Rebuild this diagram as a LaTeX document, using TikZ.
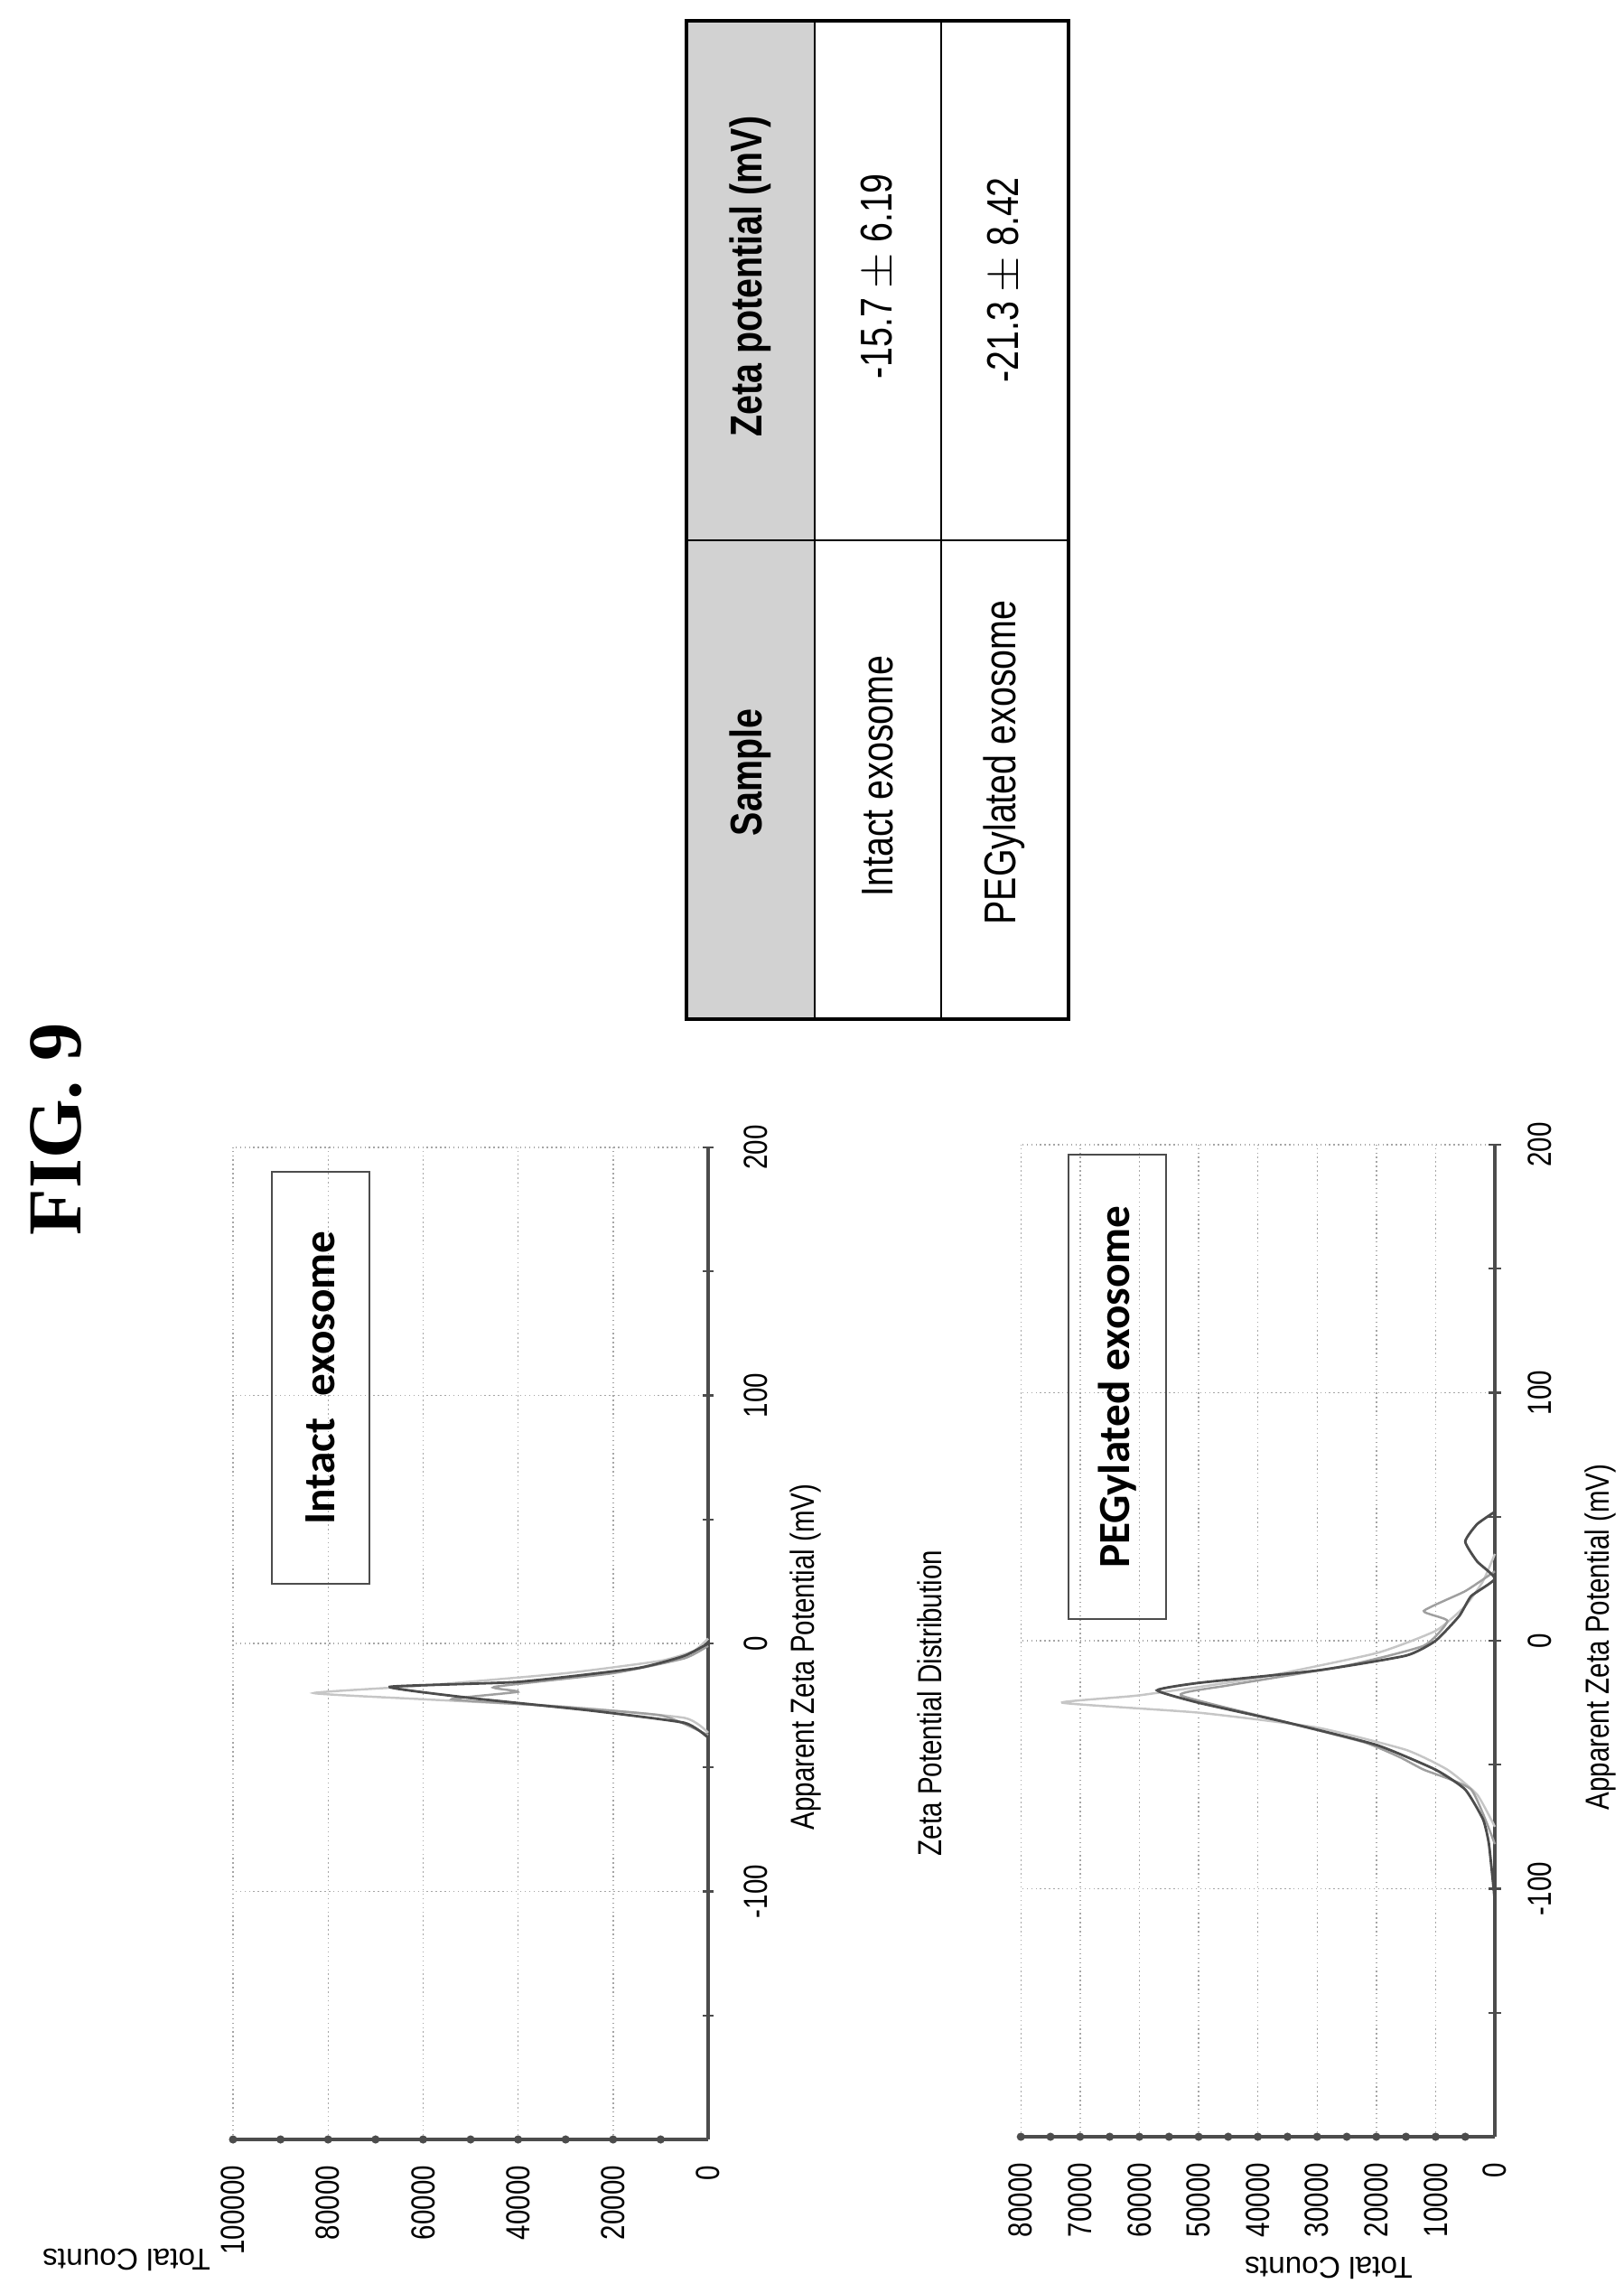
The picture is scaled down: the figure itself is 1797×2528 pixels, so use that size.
\documentclass[tikz,border=0pt]{standalone}
\usepackage{fontspec}
\setmainfont{Liberation Sans}
\newfontfamily\narrow[FakeStretch=0.8]{Liberation Sans}
\newfontfamily\boxfont{Carlito}
\newfontfamily\figfont{Liberation Serif}
\tikzset{
    gridline/.style={densely dotted, gray!70},
    axisline/.style={line width=1.4pt, gray!60!black},
    tickdot/.style={circle, fill=gray!60!black, inner sep=0pt, minimum size=2.6pt},
    ticklbl/.style={font=\narrow\fontsize{10.5}{12}\selectfont, rotate=90},
    axistitle/.style={font=\narrow\fontsize{10.5}{12}\selectfont, rotate=90},
    tracelight/.style={gray!45, line width=0.7pt},
    tracemid/.style={gray!75, line width=0.7pt},
    tracedark/.style={gray!60!black, line width=0.8pt},
    samplebox/.style={draw, gray!60!black, line width=0.6pt, rotate=90, minimum height=1.08cm, text=black, font=\boxfont\bfseries\fontsize{14}{16}\selectfont},
    cell/.style={rotate=90, font=\narrow\fontsize{14}{16}\selectfont}
}
\begin{document}
\begin{tikzpicture}[x=0.01cm, y=-0.01cm]
    \useasboundingbox (0,0) rectangle (1797,2528);
    
    \node[rotate=90, font=\figfont\bfseries\fontsize{24}{28}\selectfont] (fig) at (62,1250) {FIG. 9};
    
    % upper plot
    \begin{scope}[shift={(784,1819)}, xscale=-5.26, yscale=-2.745]
        \foreach \c in {20,40,...,100} {
            \draw[gridline] (\c,-200) -- (\c,200);
        } %end foreach
        \foreach \m in {-100,0,100,200} {
            \draw[gridline] (0,\m) -- (100,\m);
        } %end foreach
        \draw[axisline] (0,-200) -- (100,-200);
        \draw[axisline] (0,-200) -- (0,200);
        \foreach \c in {10,20,...,100} {
            \node[tickdot] at (\c,-200) {};
        } %end foreach
        \foreach \m in {-150,-100,...,200} {
            \draw[axisline, line width=0.6pt] (-1.2,\m) -- (1.2,\m);
        } %end foreach
        \foreach \c/\t in {0/0,20/20000,40/40000,60/60000,80/80000,100/100000} {
            \node[ticklbl, anchor=east] at (\c,-206) {\t};
        } %end foreach
        \foreach \m in {-100,0,100,200} {
            \node[ticklbl] at (-10,\m) {\ifnum\m<0 -\the\numexpr-\m\relax\else\m\fi};
        } %end foreach
        \draw[tracelight] plot[smooth, tension=0.3] coordinates {(0,-36) (5,-30) (30,-25.5) (60,-22.5) (83,-20) (60,-17) (30,-12) (10,-7) (3,-3) (0,2)};
        \draw[tracemid] plot[smooth, tension=0.3] coordinates {(0,-37) (10,-29) (35,-25) (54,-22.5) (40,-19.5) (45,-17.5) (20,-12) (5,-6) (0,-1)};
        \draw[tracedark] plot[smooth, tension=0.3] coordinates {(0,-38) (5,-32) (25,-27) (50,-22) (67,-17.5) (40,-15.5) (15,-10) (5,-5) (0,0)};
    \end{scope}
    \node[samplebox, minimum width=4.56cm] (intact) at (355,1525) {Intact\enspace exosome};
    \node[axistitle] (xtitleA) at (892,1834) {Apparent Zeta Potential (mV)};
    \node[rotate=180, font=\fontsize{9.5}{11}\selectfont] (ytitleA) at (140,2501) {Total Counts};
    
    \node[axistitle] (dist) at (1029,1885) {Zeta Potential Distribution};
    
    % lower plot
    \begin{scope}[shift={(1655,1816)}, xscale=-6.56, yscale=-2.745]
        \foreach \c in {10,20,...,80} {
            \draw[gridline] (\c,-200) -- (\c,200);
        } %end foreach
        \foreach \m in {-100,0,100,200} {
            \draw[gridline] (0,\m) -- (80,\m);
        } %end foreach
        \draw[axisline] (0,-200) -- (80,-200);
        \draw[axisline] (0,-200) -- (0,200);
        \foreach \c in {5,10,...,80} {
            \node[tickdot] at (\c,-200) {};
        } %end foreach
        \foreach \m in {-150,-100,...,200} {
            \draw[axisline, line width=0.6pt] (-1,\m) -- (1,\m);
        } %end foreach
        \foreach \c in {0,10,...,80} {
            \node[ticklbl, anchor=east] at (\c,-206) {\ifnum\c=0 0\else\c000\fi};
        } %end foreach
        \foreach \m in {-100,0,100,200} {
            \node[ticklbl] at (-7.6,\m) {\ifnum\m<0 -\the\numexpr-\m\relax\else\m\fi};
        } %end foreach
        \draw[tracelight] plot[smooth, tension=0.3] coordinates {(0,-75) (3,-62) (8,-52) (15,-44) (30,-35) (50,-29) (73,-25) (60,-22) (40,-15) (20,-5) (10,4) (5,14) (2,24) (0,35)};
        \draw[tracemid] plot[smooth, tension=0.3] coordinates {(0,-82) (4,-60) (12,-52) (16,-47) (22,-41) (35,-33) (53,-22) (45,-18) (25,-10) (12,-2) (8,8) (12,12) (5,20) (0,28)};
        \draw[tracedark] plot[smooth, tension=0.3] coordinates {(0,-105) (1,-82) (2,-72) (5,-60) (10,-52) (20,-42) (35,-33) (50,-25) (57,-20) (50,-17) (30,-12) (15,-6) (10,0) (6,10) (4,18) (0,25) (3,32) (5,40) (3,47) (0,52)};
    \end{scope}
    \node[samplebox, minimum width=5.13cm] (pegyl) at (1237,1535) {PEGylated exosome};
    \node[axistitle] (xtitleB) at (1772,1812) {Apparent Zeta Potential (mV)};
    \node[rotate=180, font=\fontsize{9.5}{11}\selectfont] (ytitleB) at (1471,2510) {Total Counts};
    
    % table
    \fill[gray!35] (760,23) rectangle (902,1128);
    \draw[line width=1.2pt] (760,23) rectangle (1183,1128);
    \draw[line width=0.8pt] (902,23) -- (902,1128);
    \draw[line width=0.8pt] (1042,23) -- (1042,1128);
    \draw[line width=0.8pt] (760,598) -- (1183,598);
    \node[cell, font=\narrow\bfseries\fontsize{14}{16}\selectfont] (hdrS) at (831,855) {Sample};
    \node[cell, font=\narrow\bfseries\fontsize{14}{16}\selectfont] (hdrZ) at (831,306) {Zeta potential (mV)};
    \node[cell] (rowA) at (972,859) {Intact exosome};
    \node[cell] (valA) at (972,306) {-15.7 $\pm$ 6.19};
    \node[cell] (rowB) at (1112,844) {PEGylated exosome};
    \node[cell] (valB) at (1112,310) {-21.3 $\pm$ 8.42};
    
\end{tikzpicture}
\end{document}
